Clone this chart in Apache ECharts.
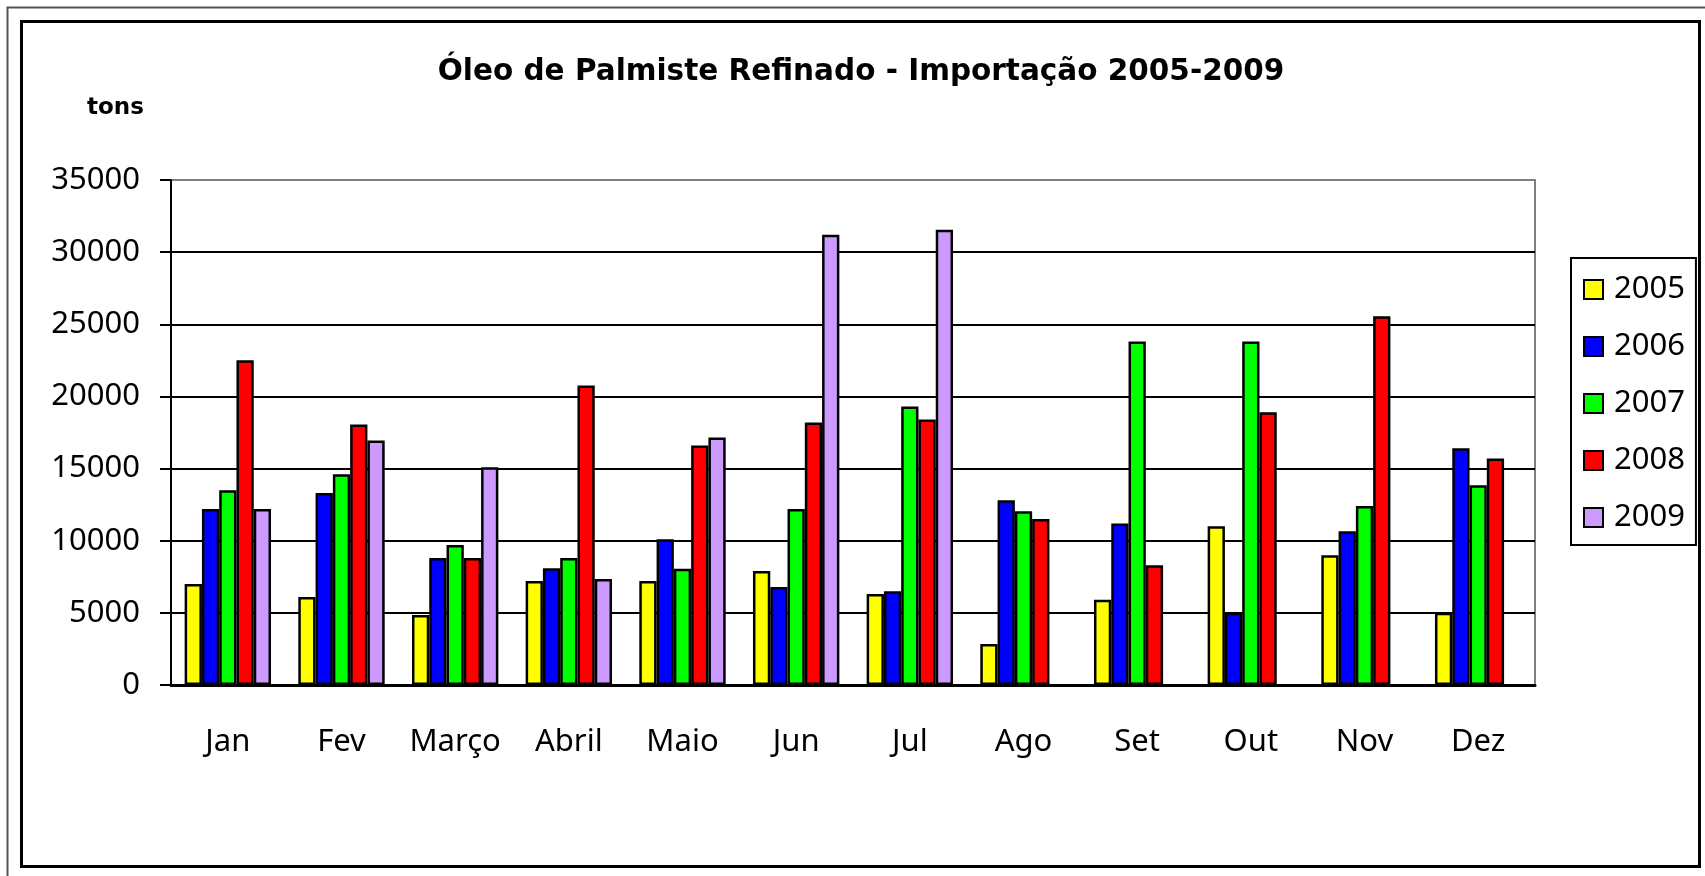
<!DOCTYPE html>
<html>
<head>
    <meta charset="utf-8">
    <title>Óleo de Palmiste Refinado - Importação 2005-2009</title>
    <script src="https://cdn.jsdelivr.net/npm/echarts@6.0.0/dist/echarts.min.js"></script>
    <style>
        body { margin: 0; background: #fff; }
    </style>
</head>
<body>
    <div id="main" style="width: 1705px;height:876px;"></div>
    <script type="text/javascript">
        // meses
        var months = ['Jan', 'Fev', 'Março', 'Abril', 'Maio', 'Jun', 'Jul', 'Ago', 'Set', 'Out', 'Nov', 'Dez'];
        var years = ['2005', '2006', '2007', '2008', '2009'];

        // toneladas importadas por ano
        var data2005 = [7000, 6100, 4850, 7200, 7200, 7900, 6300, 2850, 5900, 11000, 9000, 5000];
        var data2006 = [12200, 13300, 8800, 8100, 10100, 6800, 6500, 12800, 11200, 5000, 10650, 16400];
        var data2007 = [13500, 14600, 9700, 8800, 8050, 12200, 19300, 12050, 23800, 23800, 12400, 13850];
        var data2008 = [22500, 18050, 8800, 20750, 16600, 18200, 18400, 11500, 8300, 18900, 25550, 15700];
        var data2009 = [12200, 16950, 15100, 7350, 17150, 31200, 31550, null, null, null, null, null];

        var yTicks = [0, 5000, 10000, 15000, 20000, 25000, 30000, 35000];

        var colors = ['#ffff00', '#0000ff', '#00ff00', '#ff0000', '#cc99ff'];
        var allData = [data2005, data2006, data2007, data2008, data2009];

        var myChart = echarts.init(document.getElementById('main'));

        var series = [];
        for (var i = 0; i < years.length; i++) {
            series.push({
                name: years[i],
                type: 'bar',
                data: allData[i],
                barGap: '0%',
                barCategoryGap: '24%',
                itemStyle: {
                    color: colors[i],
                    borderColor: '#000',
                    borderWidth: 2.5
                }
            });
        }

        // linha do topo cinza, as outras pretas
        var splitColors = yTicks.map(function (v, idx) {
            return idx === yTicks.length - 1 ? '#808080' : '#000';
        });

        var option = {
            backgroundColor: '#fff',
            animation: false,
            title: [{
                text: 'Óleo de Palmiste Refinado - Importação 2005-2009',
                left: 861,
                top: 57,
                textAlign: 'center',
                padding: 0,
                textStyle: {
                    fontFamily: 'DejaVu Sans',
                    fontWeight: 'bold',
                    fontSize: 29.5,
                    color: '#000'
                }
            }, {
                text: 'tons',
                left: 87,
                top: 97,
                padding: 0,
                textStyle: {
                    fontFamily: 'DejaVu Sans',
                    fontWeight: 'bold',
                    fontSize: 23,
                    color: '#000'
                }
            }],
            legend: {
                data: years,
                orient: 'vertical',
                left: 1571,
                top: 258,
                padding: [16, 11, 12, 12],
                itemWidth: 19,
                itemHeight: 19,
                itemGap: 26,
                icon: 'rect',
                borderColor: '#000',
                borderWidth: 2,
                backgroundColor: '#fff',
                textStyle: {
                    fontFamily: 'Noto Sans',
                    fontSize: 31,
                    lineHeight: 31,
                    color: '#000',
                    padding: [0, 0, 0, 6]
                }
            },
            grid: {
                left: 171,
                right: 170,
                top: 180,
                bottom: 191,
                show: true,
                borderColor: '#808080',
                borderWidth: 2,
                backgroundColor: '#fff',
                outerBoundsMode: 'none'
            },
            xAxis: {
                type: 'category',
                data: months,
                axisLine: { lineStyle: { color: '#000', width: 3 } },
                axisTick: { length: 11, lineStyle: { color: '#000', width: 2 } },
                axisLabel: {
                    interval: 0,
                    margin: 42,
                    fontFamily: 'Noto Sans',
                    fontSize: 31,
                    color: '#000'
                }
            },
            yAxis: {
                type: 'value',
                min: 0,
                max: 35000,
                interval: 5000,
                axisLine: { show: true, lineStyle: { color: '#000', width: 2 } },
                axisTick: { show: true, length: 11, lineStyle: { color: '#000', width: 2 } },
                axisLabel: {
                    margin: 31,
                    fontFamily: 'Noto Sans',
                    fontSize: 31,
                    color: '#000',
                    formatter: function (v) { return String(v); }
                },
                splitLine: { lineStyle: { color: splitColors, width: 2 } }
            },
            graphic: [{
                type: 'rect',
                shape: { x: 7.5, y: 7.5, width: 1720, height: 890 },
                style: { fill: null, stroke: '#555', lineWidth: 2 }
            }, {
                type: 'rect',
                shape: { x: 21.5, y: 21.5, width: 1678, height: 845 },
                style: { fill: null, stroke: '#000', lineWidth: 3 }
            }],
            series: series
        };

        myChart.setOption(option);
    </script>
</body>
</html>
